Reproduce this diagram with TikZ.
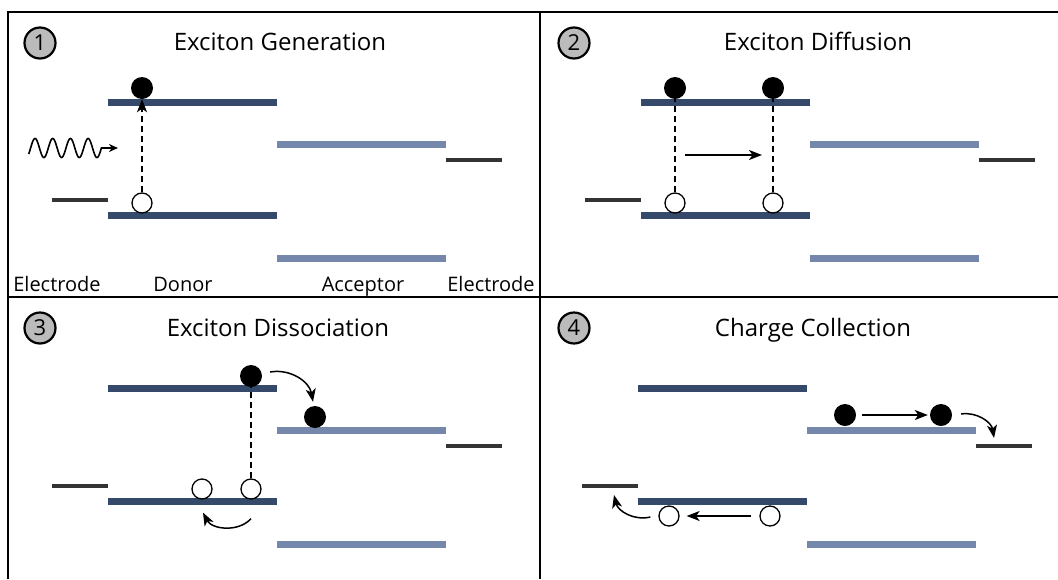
\documentclass[tikz,border=0pt]{standalone}
\usepackage{fontspec}
\setmainfont{Open Sans}
\usetikzlibrary{arrows.meta}
\definecolor{donor}{RGB}{53,74,107}
\definecolor{acceptor}{RGB}{117,135,170}
\definecolor{electrode}{RGB}{51,51,51}
\definecolor{badgegray}{RGB}{187,187,187}

% one set of energy levels: donor, acceptor and the two electrodes
\newcommand\energylevels[1]{%
  \node[dlvl] (#1dt) at (192.5,102) {};
  \node[dlvl] (#1db) at (192.5,215) {};
  \node[alvl] (#1at) at (361,144) {};
  \node[alvl] (#1ab) at (361,258) {};
  \node[elvl] (#1el) at (80,200) {};
  \node[elvl] (#1er) at (473.5,160) {};
}

\begin{document}
\begin{tikzpicture}[x=1pt,y=-1pt,
  lvl/.style={minimum height=7pt, minimum width=169pt, inner sep=0pt, outer sep=0pt},
  dlvl/.style={lvl, fill=donor},
  alvl/.style={lvl, fill=acceptor},
  elvl/.style={fill=electrode, minimum height=4pt, minimum width=56pt, inner sep=0pt, outer sep=0pt},
  electron/.style={circle, fill=black, minimum size=22pt, inner sep=0pt},
  hole/.style={circle, draw=black, fill=white, line width=1.3pt, minimum size=20pt, inner sep=0pt},
  badge/.style={circle, draw=black, fill=badgegray, line width=2.2pt, minimum size=31pt, inner sep=0pt, font=\fontsize{22}{22}\selectfont},
  heading/.style={inner sep=0pt, anchor=base, font=\fontsize{24}{28}\selectfont},
  layername/.style={inner sep=0pt, anchor=base, font=\fontsize{20}{24}\selectfont},
  frameline/.style={line width=1.5pt},
  arr/.style={-{Stealth[length=13pt, width=10pt, inset=3.5pt]}, line width=1.5pt},
  link/.style={dash pattern=on 6pt off 4pt, line width=1.1pt},
]
\useasboundingbox (0,0) rectangle (1058,579);

% panel frame
\draw[frameline] (8,579) -- (8,12) -- (1058,12);
\draw[frameline] (540,12) -- (540,579);
\draw[frameline] (8,297) -- (1058,297);

% ---------- 1: exciton generation ----------
\node[badge] (n1) at (40,43) {1};
\node[heading] (t1) at (280,50) {Exciton Generation};
\energylevels{A}
\node[electron] (e1) at (142,88) {};
\node[hole] (h1) at (142,203) {};
\draw[link, arr] (h1) -- (e1.south);
% incoming photon
\coordinate (w1) at (118,148);
\draw[line width=1.6pt, -{Stealth[length=9pt, width=8pt]}]
  plot[domain=-40:1440, samples=200, variable=\t] ({30.6+\t/360*17.7}, {148-9.5*sin(\t)})
  -- (w1);
\node[layername] (c1) at (57,291) {Electrode};
\node[layername] (c2) at (183,291) {Donor};
\node[layername] (c3) at (363,291) {Acceptor};
\node[layername] (c4) at (491,291) {Electrode};

% ---------- 2: exciton diffusion ----------
\node[badge] (n2) at (574,43) {2};
\node[heading] (t2) at (818,50) {Exciton Diffusion};
\begin{scope}[shift={(533,0)}]
  \energylevels{B}
  \node[electron] (e2a) at (142,88) {};
  \node[electron] (e2b) at (240,88) {};
  \node[hole] (h2a) at (142,203) {};
  \node[hole] (h2b) at (240,203) {};
  \draw[link] (h2a) -- (e2a);
  \draw[link] (h2b) -- (e2b);
  \coordinate (p2s) at (152,155);
  \coordinate (p2e) at (229,155);
  \draw[arr] (p2s) -- (p2e);
\end{scope}

% ---------- 3: exciton dissociation ----------
\node[badge] (n3) at (40,328) {3};
\node[heading] (t3) at (278,336) {Exciton Dissociation};
\begin{scope}[shift={(0,286)}]
  \energylevels{C}
  \node[electron] (e3a) at (251,90) {};
  \node[electron] (e3b) at (315,131) {};
  \node[hole] (h3a) at (202,203) {};
  \node[hole] (h3b) at (251,203) {};
  \draw[link] (h3b) -- (e3a);
  \draw[arr] ([xshift=8pt,yshift=4pt]e3a.east) to[bend left=45] ([xshift=-2pt,yshift=4pt]e3b.north);
  \draw[arr] ([yshift=-19pt]h3b.south) to[bend left=55] ([xshift=1pt,yshift=-13pt]h3a.south);
\end{scope}

% ---------- 4: charge collection ----------
\node[badge] (n4) at (574,328) {4};
\node[heading] (t4) at (813,336) {Charge Collection};
\begin{scope}[shift={(530,286)}]
  \energylevels{D}
  \node[electron] (e4a) at (315,129) {};
  \node[electron] (e4b) at (411,129) {};
  \node[hole] (h4a) at (139,230) {};
  \node[hole] (h4b) at (240,230) {};
  \draw[arr, shorten <=6pt, shorten >=2pt] (e4a) -- (e4b);
  \draw[arr, shorten <=8pt, shorten >=7pt] (h4b) -- (h4a);
  \draw[arr] ([xshift=9pt,yshift=1pt]e4b.east) to[bend left=45] ([xshift=-9.5pt,yshift=6pt]Der.north);
  \draw[arr] ([xshift=-8pt,yshift=-1pt]h4a.west) to[bend left=45] ([xshift=4pt,yshift=-7pt]Del.south);
\end{scope}
\end{tikzpicture}
\end{document}
